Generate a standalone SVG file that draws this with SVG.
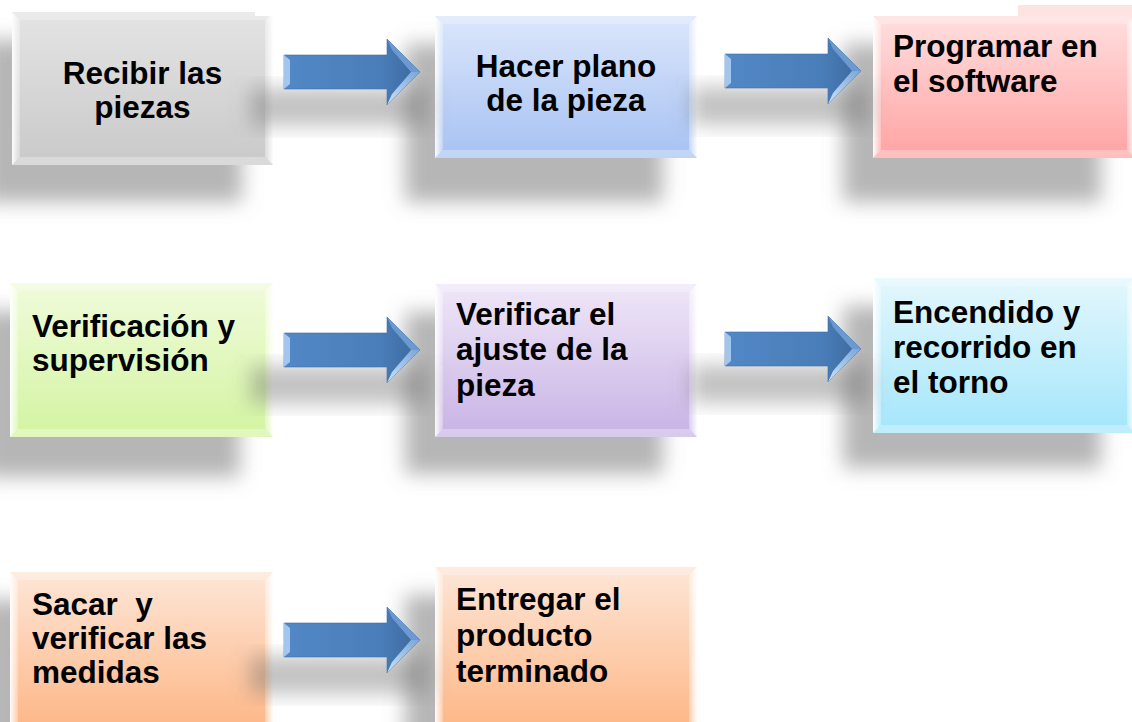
<svg xmlns="http://www.w3.org/2000/svg" width="1132" height="722" viewBox="0 0 1132 722">
<style>
.t{font-family:"Liberation Sans",Arial,sans-serif;font-weight:bold;font-size:31.5px;fill:#000}
.bl{fill:url(#bevL)}
.br{fill:url(#bevR)}
.bt{fill:#fff;fill-opacity:.25}
.bb{fill:#fff;fill-opacity:.3}
.sh{fill:#7a7a7a;fill-opacity:.55;filter:url(#blur)}
.ash{fill:#6a6a6a;fill-opacity:.4;filter:url(#blur)}
.ab{fill:url(#arrowG);stroke:#3f6fa8;stroke-width:.6}
.abl{fill:#a3c6ee}
.ahu{fill:#6b99d0}
.ahl{fill:url(#headL)}
</style>
<defs>
<filter id="blur" x="-30%" y="-30%" width="160%" height="160%"><feGaussianBlur stdDeviation="10"/></filter>
<linearGradient id="bevL" x1="0" y1="0" x2="1" y2="0"><stop offset="0" stop-color="#fff" stop-opacity=".95"/><stop offset="1" stop-color="#fff" stop-opacity=".25"/></linearGradient>
<linearGradient id="bevR" x1="1" y1="0" x2="0" y2="0"><stop offset="0" stop-color="#fff" stop-opacity=".95"/><stop offset="1" stop-color="#fff" stop-opacity=".3"/></linearGradient>
<linearGradient id="gGray" x1="0" y1="0" x2="0" y2="1"><stop offset="0" stop-color="#e4e4e4"/><stop offset="1" stop-color="#c9c9c9"/></linearGradient>
<linearGradient id="gBlue" x1="0" y1="0" x2="0" y2="1"><stop offset="0" stop-color="#dbe6fb"/><stop offset="1" stop-color="#a7c2f3"/></linearGradient>
<linearGradient id="gRed" x1="0" y1="0" x2="0" y2="1"><stop offset="0" stop-color="#ffdfdf"/><stop offset="1" stop-color="#ffa3a3"/></linearGradient>
<linearGradient id="gGreen" x1="0" y1="0" x2="0" y2="1"><stop offset="0" stop-color="#f0fbdb"/><stop offset="1" stop-color="#d3f4a1"/></linearGradient>
<linearGradient id="gPurple" x1="0" y1="0" x2="0" y2="1"><stop offset="0" stop-color="#efe7f8"/><stop offset="1" stop-color="#c8b3e5"/></linearGradient>
<linearGradient id="gCyan" x1="0" y1="0" x2="0" y2="1"><stop offset="0" stop-color="#e4f7fd"/><stop offset="1" stop-color="#a4e6fb"/></linearGradient>
<linearGradient id="gOrange" x1="0" y1="0" x2="0" y2="1"><stop offset="0" stop-color="#fde6d7"/><stop offset="1" stop-color="#fdb685"/></linearGradient>
<linearGradient id="arrowG" x1="0" y1="0" x2="1" y2="0"><stop offset="0" stop-color="#5188c5"/><stop offset=".7" stop-color="#4a7eba"/><stop offset="1" stop-color="#3c689c"/></linearGradient>
<linearGradient id="headL" x1="0" y1="1" x2="1" y2="0"><stop offset="0" stop-color="#c9e1f8"/><stop offset="1" stop-color="#7aa6d8"/></linearGradient>
</defs>

<g id="shadows">
<rect class="sh" x="-16" y="40" width="258" height="162"/>
<rect class="sh" x="405" y="44" width="258" height="158"/>
<rect class="sh" x="843" y="44" width="258" height="158"/>
<rect class="sh" x="-18" y="311" width="258" height="166"/>
<rect class="sh" x="405" y="312" width="258" height="162"/>
<rect class="sh" x="843" y="306" width="258" height="162"/>
<rect class="sh" x="-18" y="600" width="258" height="160"/>
<rect class="sh" x="405" y="595" width="258" height="160"/>
</g>

<g id="n1">
<rect x="12" y="12" width="261" height="153" fill="url(#gGray)"/>
<polygon class="bt" points="12,12 273,12 265,20 20,20"/>
<polygon class="bb" points="12,165 20,157 265,157 273,165"/>
<polygon class="bl" points="12,12 20,20 20,157 12,165"/>
<polygon class="br" points="273,12 265,20 265,157 273,165"/>
<rect x="255" y="10" width="20" height="6" fill="#fff"/>
<text class="t" text-anchor="middle"><tspan x="142.5" y="84">Recibir las</tspan><tspan x="142.5" y="118">piezas</tspan></text>
</g>

<g id="n2">
<rect x="435" y="16" width="262" height="142" fill="url(#gBlue)"/>
<polygon class="bt" points="435,16 697,16 689,24 443,24"/>
<polygon class="bb" points="435,158 443,150 689,150 697,158"/>
<polygon class="bl" points="435,16 443,24 443,150 435,158"/>
<polygon class="br" points="697,16 689,24 689,150 697,158"/>
<text class="t" text-anchor="middle"><tspan x="566" y="77">Hacer plano</tspan><tspan x="566" y="111">de la pieza</tspan></text>
</g>

<g id="n3">
<rect x="1018" y="5" width="117" height="12" fill="#ffe2e2"/>
<rect x="873" y="16" width="262" height="142" fill="url(#gRed)"/>
<polygon class="bt" points="873,16 1135,16 1127,24 881,24"/>
<polygon class="bb" points="873,158 881,150 1127,150 1135,158"/>
<polygon class="bl" points="873,16 881,24 881,150 873,158"/>
<polygon class="br" points="1135,16 1127,24 1127,150 1135,158"/>
<text class="t"><tspan x="893" y="57">Programar en</tspan><tspan x="893" y="92">el software</tspan></text>
</g>

<g id="n4">
<rect x="10" y="283" width="263" height="154" fill="url(#gGreen)"/>
<polygon class="bt" points="10,283 273,283 265,291 18,291"/>
<polygon class="bb" points="10,437 18,429 265,429 273,437"/>
<polygon class="bl" points="10,283 18,291 18,429 10,437"/>
<polygon class="br" points="273,283 265,291 265,429 273,437"/>
<text class="t"><tspan x="32" y="337">Verificación y</tspan><tspan x="32" y="371">supervisión</tspan></text>
</g>

<g id="n5">
<rect x="435" y="284" width="262" height="153" fill="url(#gPurple)"/>
<polygon class="bt" points="435,284 697,284 689,292 443,292"/>
<polygon class="bb" points="435,437 443,429 689,429 697,437"/>
<polygon class="bl" points="435,284 443,292 443,429 435,437"/>
<polygon class="br" points="697,284 689,292 689,429 697,437"/>
<text class="t"><tspan x="456" y="325">Verificar el</tspan><tspan x="456" y="360">ajuste de la</tspan><tspan x="456" y="396">pieza</tspan></text>
</g>

<g id="n6">
<rect x="873" y="278" width="262" height="155" fill="url(#gCyan)"/>
<polygon class="bt" points="873,278 1135,278 1127,286 881,286"/>
<polygon class="bb" points="873,433 881,425 1127,425 1135,433"/>
<polygon class="bl" points="873,278 881,286 881,425 873,433"/>
<polygon class="br" points="1135,278 1127,286 1127,425 1135,433"/>
<text class="t"><tspan x="893" y="323">Encendido y</tspan><tspan x="893" y="358">recorrido en</tspan><tspan x="893" y="393">el torno</tspan></text>
</g>

<g id="n7">
<rect x="10" y="572" width="263" height="160" fill="url(#gOrange)"/>
<polygon class="bt" points="10,572 273,572 265,580 18,580"/>
<polygon class="bl" points="10,572 18,580 18,724 10,732"/>
<polygon class="br" points="273,572 265,580 265,724 273,732"/>
<text class="t" style="white-space:pre"><tspan x="32" y="615">Sacar  y</tspan><tspan x="32" y="649">verificar las</tspan><tspan x="32" y="683">medidas</tspan></text>
</g>

<g id="n8">
<rect x="435" y="567" width="262" height="165" fill="url(#gOrange)"/>
<polygon class="bt" points="435,567 697,567 689,575 443,575"/>
<polygon class="bl" points="435,567 443,575 443,724 435,732"/>
<polygon class="br" points="697,567 689,575 689,724 697,732"/>
<text class="t"><tspan x="456" y="610">Entregar el</tspan><tspan x="456" y="646">producto</tspan><tspan x="456" y="682">terminado</tspan></text>
</g>

<g id="connectors">
<rect class="ash" x="250" y="88" width="178" height="38"/>
<rect class="ash" x="691" y="87" width="178" height="38"/>
<rect class="ash" x="250" y="366" width="178" height="38"/>
<rect class="ash" x="691" y="365" width="178" height="38"/>
<rect class="ash" x="250" y="656" width="178" height="38"/>

<g id="a1">
<path class="ab" d="M284,55 H387 V39 L420,72 L387,105 V89 H284 Z"/>
<path class="abl" d="M284,55 L290,60 V84 L284,89 Z"/>
<path class="ahu" d="M387,39 L420,72 L411,72 L392,50 Z"/>
<path class="ahl" d="M420,72 L387,105 L392,94 L411,72 Z"/>
</g>
<g id="a2">
<path class="ab" d="M725,54 H828 V38 L861,71 L828,104 V88 H725 Z"/>
<path class="abl" d="M725,54 L731,59 V83 L725,88 Z"/>
<path class="ahu" d="M828,38 L861,71 L852,71 L833,49 Z"/>
<path class="ahl" d="M861,71 L828,104 L833,93 L852,71 Z"/>
</g>
<g id="a3">
<path class="ab" d="M284,333 H387 V317 L420,350 L387,383 V367 H284 Z"/>
<path class="abl" d="M284,333 L290,338 V362 L284,367 Z"/>
<path class="ahu" d="M387,317 L420,350 L411,350 L392,328 Z"/>
<path class="ahl" d="M420,350 L387,383 L392,372 L411,350 Z"/>
</g>
<g id="a4">
<path class="ab" d="M725,332 H828 V316 L861,349 L828,382 V366 H725 Z"/>
<path class="abl" d="M725,332 L731,337 V361 L725,366 Z"/>
<path class="ahu" d="M828,316 L861,349 L852,349 L833,327 Z"/>
<path class="ahl" d="M861,349 L828,382 L833,371 L852,349 Z"/>
</g>
<g id="a5">
<path class="ab" d="M284,623 H387 V607 L420,640 L387,673 V657 H284 Z"/>
<path class="abl" d="M284,623 L290,628 V652 L284,657 Z"/>
<path class="ahu" d="M387,607 L420,640 L411,640 L392,618 Z"/>
<path class="ahl" d="M420,640 L387,673 L392,662 L411,640 Z"/>
</g>
</g>
</svg>
